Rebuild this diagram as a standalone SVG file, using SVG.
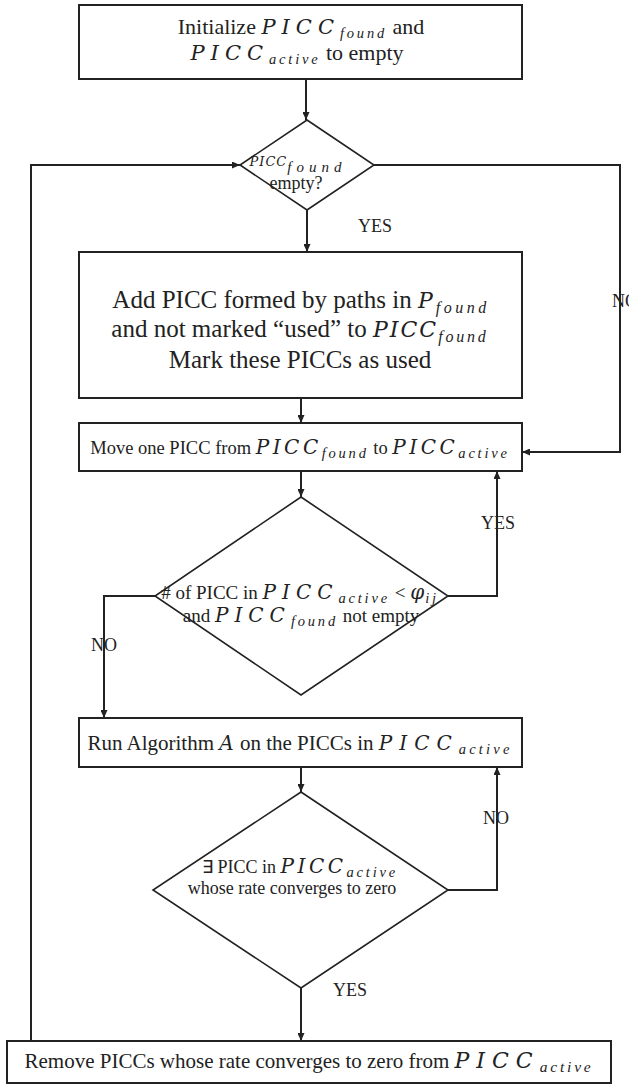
<svg xmlns="http://www.w3.org/2000/svg" width="629" height="1089" viewBox="0 0 629 1089">
  <style>
    .box { fill: #fff; stroke: #222; stroke-width: 2; }
    .dia { fill: #fff; stroke: #222; stroke-width: 1.6; }
    .edge { fill: none; stroke: #222; stroke-width: 2; }
    .t { font-family: "Liberation Serif", "Times New Roman", serif; fill: #222; text-anchor: middle; }
    .lbl { font-family: "Liberation Serif", "Times New Roman", serif; fill: #222; font-size: 18px; }
    /* calligraphic set names, e.g. PICC */
    .m { font-family: "DejaVu Serif", serif; font-style: italic; font-size: 20px; letter-spacing: 6px; }
    /* math subscripts */
    .s { font-style: italic; font-size: 14.5px; letter-spacing: 2.8px; }
  </style>
  <defs>
    <marker id="arrow" markerUnits="userSpaceOnUse" markerWidth="9" markerHeight="7" refX="8" refY="3.5" orient="auto">
      <path d="M0,0 L8,3.5 L0,7 z" fill="#222"/>
    </marker>
  </defs>

  <!-- connectors -->
  <g id="connectors">
    <line class="edge" x1="306" y1="79" x2="306" y2="120" marker-end="url(#arrow)"/>
    <line class="edge" x1="307" y1="210" x2="307" y2="252" marker-end="url(#arrow)"/>
    <path class="edge" d="M374,165 H620 V452 H522" marker-end="url(#arrow)"/>
    <line class="edge" x1="301" y1="398" x2="301" y2="423" marker-end="url(#arrow)"/>
    <line class="edge" x1="301" y1="471" x2="301" y2="497" marker-end="url(#arrow)"/>
    <path class="edge" d="M448,596 H497 V471" marker-end="url(#arrow)"/>
    <path class="edge" d="M155,596 H104 V718" marker-end="url(#arrow)"/>
    <line class="edge" x1="301" y1="767" x2="301" y2="792" marker-end="url(#arrow)"/>
    <path class="edge" d="M448,890 H497 V767" marker-end="url(#arrow)"/>
    <line class="edge" x1="301" y1="988" x2="301" y2="1041" marker-end="url(#arrow)"/>
    <path class="edge" d="M31,1041 V165 H240" marker-end="url(#arrow)"/>
    <text class="lbl" x="358" y="232">YES</text>
    <text class="lbl" x="612" y="307">NO</text>
    <text class="lbl" x="481" y="529">YES</text>
    <text class="lbl" x="91" y="651">NO</text>
    <text class="lbl" x="483" y="824">NO</text>
    <text class="lbl" x="333" y="996">YES</text>
  </g>

  <g id="init">
    <rect class="box" x="79" y="5" width="443" height="74"/>
    <text class="t" x="301" y="34" font-size="22">Initialize <tspan class="m" style="font-size:21px">PICC</tspan><tspan class="s" dy="4">found</tspan><tspan dy="-4"> and</tspan></text>
    <text class="t" x="297" y="60" font-size="22"><tspan class="m" style="font-size:21px">PICC</tspan><tspan class="s" dy="4">active</tspan><tspan dy="-4"> to empty</tspan></text>
  </g>

  <g id="check-found-empty">
    <polygon class="dia" points="307,120 374,165 307,210 240,165"/>
    <text class="t" x="298" y="166" font-size="17"><tspan class="m" style="font-size:13px;letter-spacing:1px">PICC</tspan><tspan class="s" dy="6" style="font-size:15px;letter-spacing:5px">found</tspan></text>
    <text class="t" x="296" y="189" font-size="18">empty?</text>
  </g>

  <g id="add-picc">
    <rect class="box" x="79" y="252" width="443" height="146"/>
    <text class="t" x="301" y="308" font-size="25">Add PICC formed by paths in <tspan class="m" style="font-size:22px;letter-spacing:3px">P</tspan><tspan class="s" dy="5" style="font-size:16px;letter-spacing:3.5px">found</tspan></text>
    <text class="t" x="300" y="337" font-size="25">and not marked “used” to <tspan class="m" style="font-size:22px;letter-spacing:2px">PICC</tspan><tspan class="s" dy="5" style="font-size:16px;letter-spacing:2.8px">found</tspan></text>
    <text class="t" x="300" y="368" font-size="25">Mark these PICCs as used</text>
  </g>

  <g id="move-picc">
    <rect class="box" x="79" y="423" width="443" height="48"/>
    <text class="t" x="300" y="454" font-size="18.5">Move one PICC from <tspan class="m" style="letter-spacing:3.5px">PICC</tspan><tspan class="s" dy="4">found</tspan><tspan dy="-4"> to </tspan><tspan class="m" style="letter-spacing:3.5px">PICC</tspan><tspan class="s" dy="4">active</tspan></text>
  </g>

  <g id="check-active-count">
    <polygon class="dia" points="301,497 448,596 301,695 155,596"/>
    <text class="t" x="300" y="599" font-size="19"># of PICC in <tspan class="m">PICC</tspan><tspan class="s" dy="4">active</tspan><tspan dy="-4"> &lt; </tspan><tspan class="m" style="letter-spacing:1px">φ</tspan><tspan class="s" dy="4">ij</tspan></text>
    <text class="t" x="301" y="622" font-size="19">and <tspan class="m">PICC</tspan><tspan class="s" dy="4">found</tspan><tspan dy="-4"> not empty</tspan></text>
  </g>

  <g id="run-algorithm">
    <rect class="box" x="79" y="718" width="443" height="49"/>
    <text class="t" x="300" y="750" font-size="21">Run Algorithm <tspan class="m" style="letter-spacing:1px">A</tspan> on the PICCs in <tspan class="m" style="letter-spacing:7px">PICC</tspan><tspan class="s" dy="4" style="letter-spacing:3.2px">active</tspan></text>
  </g>

  <g id="check-zero-rate">
    <polygon class="dia" points="301,792 448,890 301,988 153,890"/>
    <text class="t" x="300" y="873" font-size="18">∃ PICC in <tspan class="m" style="letter-spacing:3.5px">PICC</tspan><tspan class="s" dy="4">active</tspan></text>
    <text class="t" x="292" y="894" font-size="18">whose rate converges to zero</text>
  </g>

  <g id="remove-picc">
    <rect class="box" x="7" y="1041" width="604" height="42"/>
    <text class="t" x="309" y="1068" font-size="21">Remove PICCs whose rate converges to zero from <tspan class="m" style="font-size:22px;letter-spacing:7px">PICC</tspan><tspan class="s" dy="4" style="font-size:15.5px">active</tspan></text>
  </g>
</svg>
